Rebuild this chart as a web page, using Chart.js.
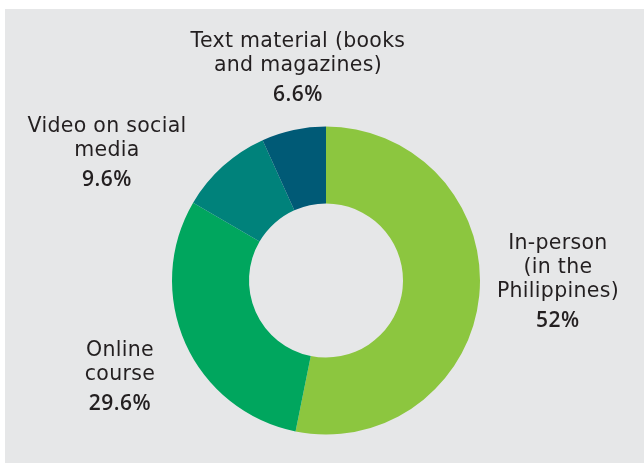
<!DOCTYPE html>
<html>
<head>
<meta charset="utf-8">
<script src="https://cdn.jsdelivr.net/npm/chart.js@4"></script>
<style>
    html, body { margin: 0; padding: 0; background: #ffffff; }
    #wrap { width: 644px; height: 463px; }
</style>
</head>
<body>
<div id="wrap"><canvas id="learningChart" width="644" height="463"></canvas></div>
<script>
// Kategoriler (satır satır) ve yüzdeler
const categories = [
    ['In-person', '(in the', 'Philippines)'],
    ['Online', 'course'],
    ['Video on social', 'media'],
    ['Text material (books', 'and magazines)']
];
const shares = [52, 29.6, 9.6, 6.6];
const shareLabels = ['52%', '29.6%', '9.6%', '6.6%'];
const sliceColors = ['#8cc63f', '#00a65e', '#00827b', '#005a76'];

// Etiketlerin merkeze göre yeri (yarıçap cinsinden)
const labelOffsets = [
    [1.506, -0.205],
    [-1.338, 0.49],
    [-1.422, -0.964],
    [-0.182, -1.516]
];

// Gri arka plan
const backdrop = {
    id: 'backdrop',
    beforeDraw(chart) {
        const ctx = chart.ctx;
        ctx.save();
        ctx.fillStyle = '#ffffff';
        ctx.fillRect(0, 0, chart.width, chart.height);
        ctx.fillStyle = '#e6e7e8';
        ctx.fillRect(5, 9, chart.width - 5, chart.height - 9);
        ctx.restore();
    }
};

// Dilim etiketleri
const sliceLabels = {
    id: 'sliceLabels',
    afterDatasetsDraw(chart) {
        const ctx = chart.ctx;
        const arcs = chart.getDatasetMeta(0).data;
        ctx.save();
        ctx.textAlign = 'center';
        ctx.textBaseline = 'alphabetic';
        arcs.forEach((arc, i) => {
            const r = arc.outerRadius;
            const x = arc.x + labelOffsets[i][0] * r;
            let y = arc.y + labelOffsets[i][1] * r;
            ctx.fillStyle = '#231f20';
            ctx.font = '400 20.5px "DejaVu Sans"';
            ctx.letterSpacing = '0.3px';
            categories[i].forEach((line, k) => {
                ctx.fillText(line, x, y + k * 24);
            });
            y += (categories[i].length - 1) * 24 + 30;
            ctx.font = '600 21px "Open Sans"';
            ctx.letterSpacing = '0.5px';
            ctx.fillText(shareLabels[i], x, y);
        });
        ctx.restore();
    }
};

new Chart(document.getElementById('learningChart'), {
    type: 'doughnut',
    data: {
        labels: categories.map(c => c.join(' ')),
        datasets: [{
            data: shares,
            backgroundColor: sliceColors,
            borderWidth: 0,
            hoverOffset: 0
        }]
    },
    options: {
        responsive: false,
        animation: false,
        cutout: '50%',
        layout: { padding: { top: 126.5, bottom: 28.5, left: 8, right: 0 } },
        plugins: {
            legend: { display: false },
            tooltip: { enabled: false }
        }
    },
    plugins: [backdrop, sliceLabels]
});
</script>
</body>
</html>
